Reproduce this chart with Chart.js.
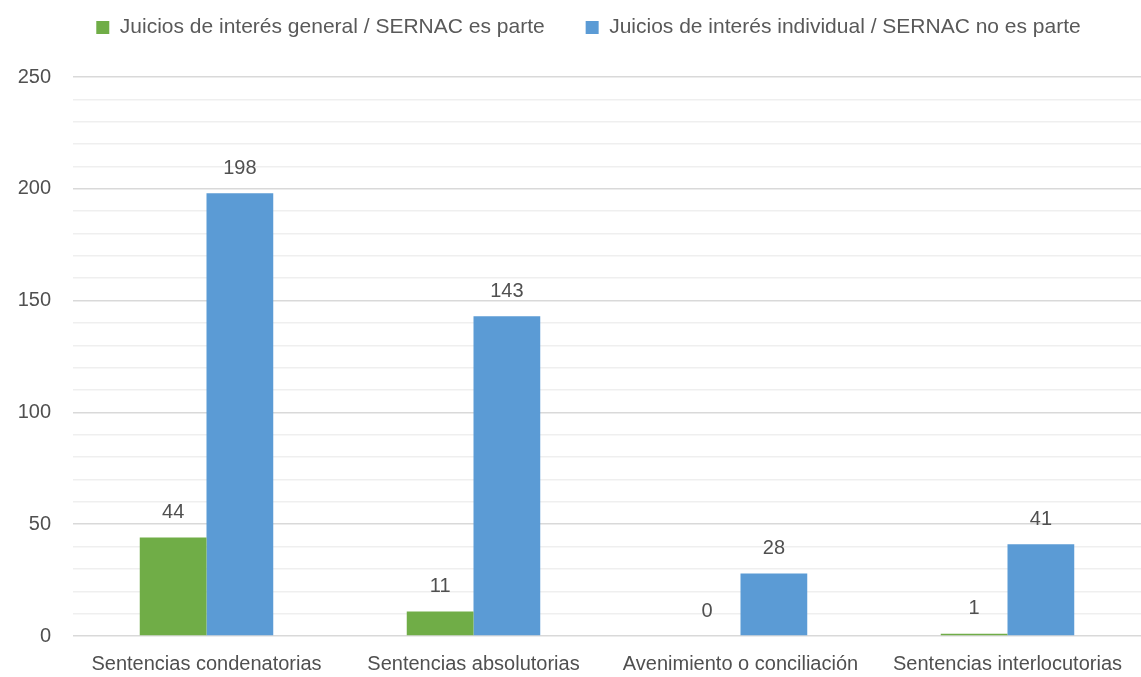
<!DOCTYPE html>
<html>
<head>
<meta charset="utf-8">
<script src="https://cdn.jsdelivr.net/npm/chart.js@4.4.0/dist/chart.umd.min.js"></script>
<style>
  html, body { margin: 0; padding: 0; background: #fff; }
  #wrap { width: 1141px; height: 677px; }
</style>
</head>
<body>
<div id="wrap"><canvas id="chart"></canvas></div>
<script>
// Data
const categories = ['Sentencias condenatorias', 'Sentencias absolutorias', 'Avenimiento o conciliación', 'Sentencias interlocutorias'];
const generalValues = [44, 11, 0, 1];
const individualValues = [198, 143, 28, 41];
const seriesNames = ['Juicios de interés general / SERNAC es parte', 'Juicios de interés individual / SERNAC no es parte'];
const yMax = 250;
const yMinorStep = 10;
const yLabelStep = 50;

const FONT = "'Liberation Sans', 'DejaVu Sans', sans-serif";
const TEXT = '#505050';

// value labels above each bar
const valueLabels = {
    id: 'valueLabels',
    afterDatasetsDraw(chart) {
        const ctx = chart.ctx;
        ctx.save();
        ctx.font = '20px ' + FONT;
        ctx.fillStyle = TEXT;
        ctx.textAlign = 'center';
        ctx.textBaseline = 'middle';
        chart.data.datasets.forEach((ds, i) => {
            chart.getDatasetMeta(i).data.forEach((bar, j) => {
                ctx.fillText(ds.data[j], bar.x, bar.y - 25);
            });
        });
        ctx.restore();
    }
};

// fixed legend band height so the plot starts where it does in the reference,
// and nudge the legend a little right like the original
const legendGap = {
    id: 'legendGap',
    beforeInit(chart) {
        const fit = chart.legend.fit;
        chart.legend.fit = function () {
            fit.bind(chart.legend)();
            this.height = 101;
        };
    },
    afterLayout(chart) {
        chart.legend.left += 18;
        chart.legend.right += 18;
    }
};

const ctx = document.getElementById('chart').getContext('2d');
new Chart(ctx, {
    type: 'bar',
    data: {
        labels: categories,
        datasets: [{
            label: seriesNames[0],
            data: generalValues,
            backgroundColor: '#70AD47',
            categoryPercentage: 0.5,
            barPercentage: 1
        }, {
            label: seriesNames[1],
            data: individualValues,
            backgroundColor: '#5B9BD5',
            categoryPercentage: 0.5,
            barPercentage: 1
        }]
    },
    options: {
        responsive: true,
        maintainAspectRatio: false,
        animation: false,
        layout: { padding: { top: -24, left: 0, right: 0, bottom: 0 } },
        plugins: {
            legend: {
                position: 'top',
                labels: {
                    font: { size: 21, family: FONT },
                    color: '#595959',
                    boxWidth: 13,
                    boxHeight: 13,
                    padding: 41
                }
            },
            tooltip: { enabled: false }
        },
        scales: {
            x: {
                afterFit(scale) { scale.height = 41; },
                grid: { display: false, drawTicks: false },
                border: { display: false },
                ticks: {
                    font: { size: 20, family: FONT },
                    color: TEXT,
                    maxRotation: 0,
                    autoSkip: false,
                    padding: 16
                }
            },
            y: {
                min: 0,
                max: yMax,
                afterFit(scale) { scale.width = 73; },
                afterBuildTicks(scale) {
                    const ticks = [];
                    for (let v = 0; v <= yMax; v += yMinorStep) ticks.push({ value: v });
                    scale.ticks = ticks;
                },
                border: { display: false },
                grid: {
                    drawTicks: false,
                    color: c => (c.tick.value % yLabelStep === 0 ? '#D9D9D9' : '#EFEFEF'),
                    lineWidth: 1.5
                },
                ticks: {
                    autoSkip: false,
                    font: { size: 20, family: FONT },
                    color: TEXT,
                    padding: 22,
                    callback: v => (v % yLabelStep === 0 ? v : '')
                }
            }
        }
    },
    plugins: [valueLabels, legendGap]
});
</script>
</body>
</html>
